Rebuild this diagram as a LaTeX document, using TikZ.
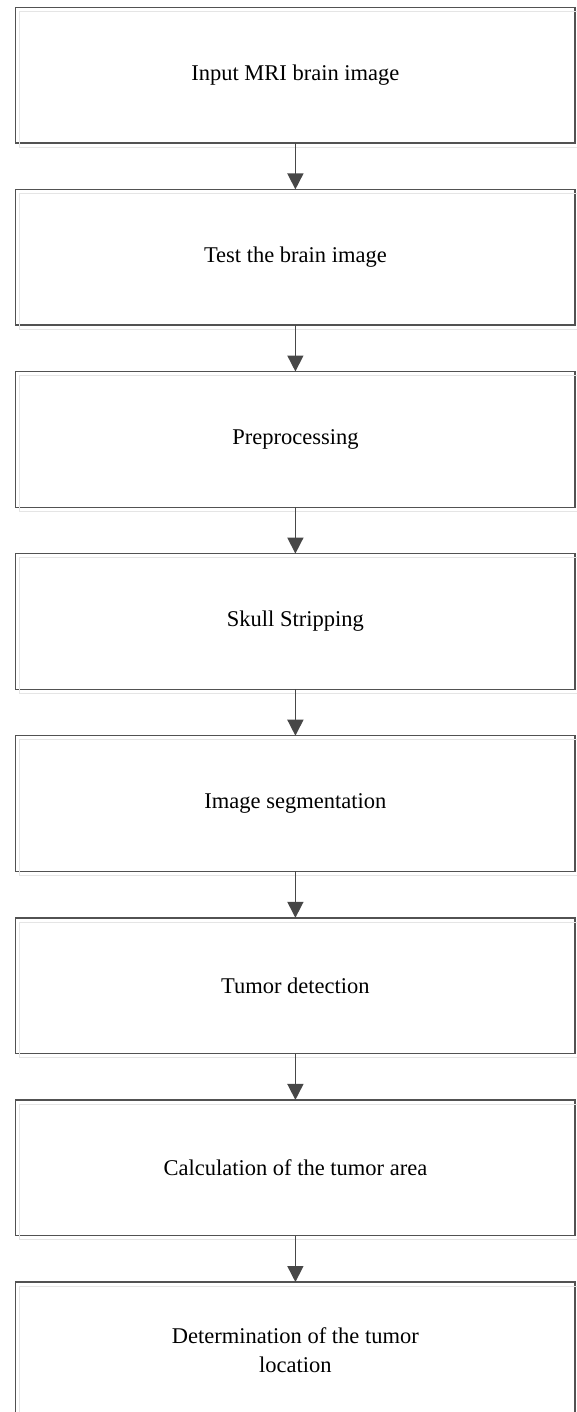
\documentclass[tikz,border=0pt]{standalone}
\usepackage{fontspec}
\setmainfont{Liberation Serif}
\usetikzlibrary{
  positioning,
  arrows.meta
}

\begin{document}
\begin{tikzpicture}[x=1pt, y=1pt, node distance = 46.4pt,
    stage/.style = {draw=black!68, line width=1.4pt, outer sep=0pt, inner sep=0pt,
      minimum width=559.3pt, minimum height=135.7pt, align=center,
      font=\fontsize{22.5}{29}\selectfont},
    flow/.style = {draw=black!72, line width=1.6pt,
      -{Triangle[width=16pt,length=16pt]}}]
    \useasboundingbox (0,0) rectangle (576,-1412);
    \node[stage] (1) at (295.4,-75.15) {Input MRI brain image};
    \node[stage,below = of 1] (2) {Test the brain image};
    \node[stage,below = of 2] (3) {Preprocessing};
    \node[stage,below = of 3] (4) {Skull Stripping};
    \node[stage,below = of 4] (5) {Image segmentation};
    \node[stage,below = of 5] (6) {Tumor detection};
    \node[stage,below = of 6] (7) {Calculation of the tumor area};
    \node[stage,below = of 7] (8) {Determination of the tumor\\location};

    % faint offset outline behind every box
    \foreach \n in {1,...,8}
      \draw[black!10, line width=1pt] ([shift={(3.8pt,-4.2pt)}]\n.south west) rectangle ([shift={(3.8pt,-4.2pt)}]\n.north east);

    \draw (1) edge[flow] (2);
    \draw (2) edge[flow] (3);
    \draw (3) edge[flow] (4);
    \draw (4) edge[flow] (5);
    \draw (5) edge[flow] (6);
    \draw (6) edge[flow] (7);
    \draw (7) edge[flow] (8);
  \end{tikzpicture}
\end{document}
